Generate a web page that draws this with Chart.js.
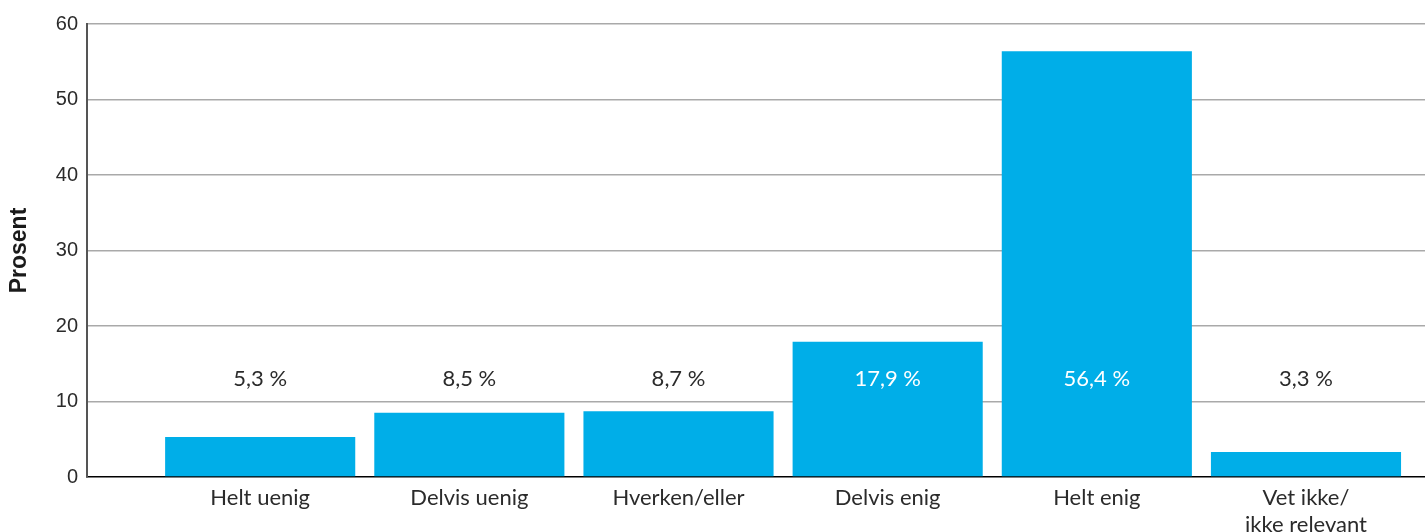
<!DOCTYPE html>
<html>
<head>
<meta charset="utf-8">
<script src="https://cdn.jsdelivr.net/npm/chart.js@4/dist/chart.umd.min.js"></script>
<style>
  html, body { margin: 0; padding: 0; background: #fff; }
  #wrap { width: 1425px; height: 532px; position: relative; }
</style>
</head>
<body>
<div id="wrap"><canvas id="chart"></canvas></div>
<script>
'use strict';

// Chart data
var categories = ['Helt uenig', 'Delvis uenig', 'Hverken/eller', 'Delvis enig', 'Helt enig', ['Vet ikke/', 'ikke relevant']];
var values = [5.3, 8.5, 8.7, 17.9, 56.4, 3.3];
var valueLabels = ['5,3 %', '8,5 %', '8,7 %', '17,9 %', '56,4 %', '3,3 %'];
var yTicks = [0, 10, 20, 30, 40, 50, 60];

var BAR_COLOR = '#00aee8';
var TEXT_COLOR = '#2b2b2b';
var LABEL_LEVEL = 13;   // value labels sit at this height on the y scale

// Draw the "x,x %" labels at a fixed level, white when inside the bar
var valueLabelPlugin = {
    id: 'valueLabels',
    afterDatasetsDraw: function(chart) {
        var ctx = chart.ctx;
        var yScale = chart.scales.y;
        var meta = chart.getDatasetMeta(0);
        var y = yScale.getPixelForValue(LABEL_LEVEL);
        ctx.save();
        ctx.font = '22px Lato, sans-serif';
        ctx.textAlign = 'center';
        ctx.textBaseline = 'middle';
        meta.data.forEach(function(bar, i) {
            ctx.fillStyle = values[i] > LABEL_LEVEL + 2 ? '#ffffff' : TEXT_COLOR;
            ctx.fillText(valueLabels[i], bar.x, y);
        });
        ctx.restore();
    }
};

var ctx = document.getElementById('chart').getContext('2d');
var chart = new Chart(ctx, {
    type: 'bar',
    data: {
        datasets: [{
            data: values.map(function(v, i) { return { x: i + 1, y: v }; }),
            backgroundColor: BAR_COLOR,
            borderWidth: 0,
            barPercentage: 1,
            categoryPercentage: 0.909
        }]
    },
    options: {
        responsive: true,
        maintainAspectRatio: false,
        animation: false,
        layout: { padding: { top: 24, right: 0, bottom: 0, left: 0 } },
        plugins: {
            legend: { display: false },
            tooltip: { enabled: false }
        },
        scales: {
            x: {
                type: 'linear',
                offset: false,
                min: 0.172,
                max: 6.569,
                grid: { display: false, drawTicks: false, offset: false },
                border: { display: true, color: '#000000', width: 1.5 },
                afterBuildTicks: function(scale) {
                    scale.ticks = categories.map(function(c, i) { return { value: i + 1 }; });
                },
                afterFit: function(scale) {
                    scale.height = 55;
                },
                ticks: {
                    autoSkip: false,
                    maxRotation: 0,
                    padding: 7,
                    color: TEXT_COLOR,
                    font: { family: 'Lato', size: 22, lineHeight: 1.25 },
                    callback: function(value) {
                        return categories[Math.round(value) - 1];
                    }
                }
            },
            y: {
                min: 0,
                max: 60,
                afterBuildTicks: function(scale) {
                    scale.ticks = yTicks.map(function(v) { return { value: v }; });
                },
                afterFit: function(scale) {
                    scale.width = 87;
                },
                grid: {
                    drawTicks: false,
                    lineWidth: 1.5,
                    color: function(c) { return c.tick && c.tick.value === 0 ? 'rgba(0,0,0,0)' : '#a9a9a9'; }
                },
                border: { display: true, color: '#555555', width: 2 },
                ticks: {
                    padding: 9,
                    color: TEXT_COLOR,
                    font: { family: '"Liberation Sans", Arial, sans-serif', size: 20 }
                },
                title: {
                    display: true,
                    text: 'Prosent',
                    color: '#1a1a1a',
                    padding: { top: 6, bottom: 0 },
                    font: { family: '"Liberation Sans", Arial, sans-serif', size: 23, weight: 'bold' }
                }
            }
        }
    },
    plugins: [valueLabelPlugin]
});
</script>
</body>
</html>
